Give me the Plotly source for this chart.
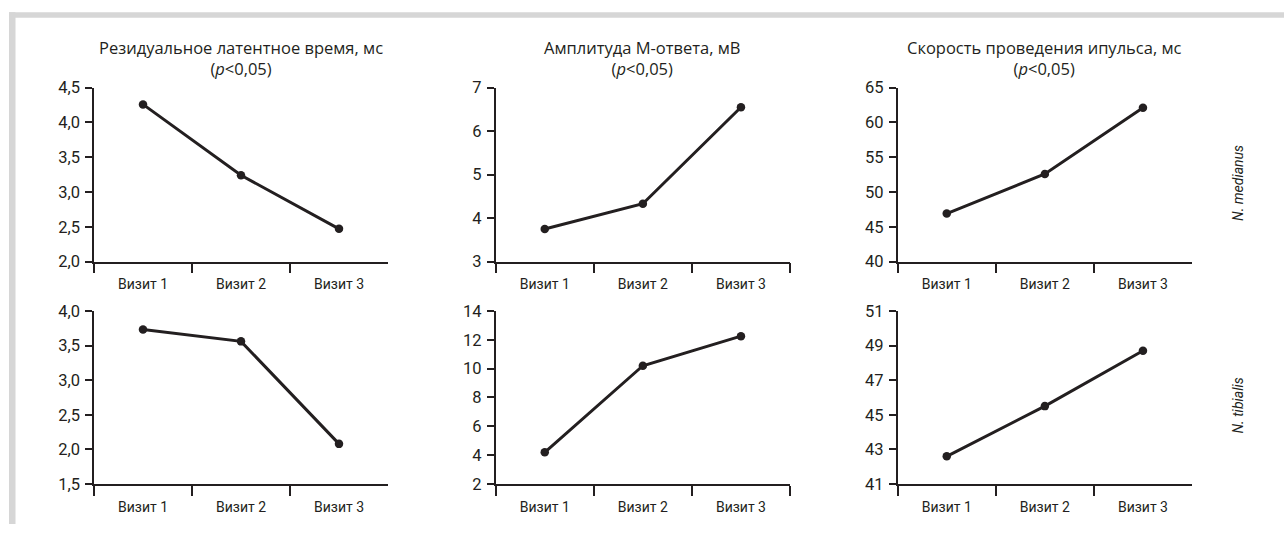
import plotly.graph_objects as go

visits = ["Визит 1", "Визит 2", "Визит 3"]

titles = [
    "Резидуальное латентное время, мс",
    "Амплитуда М-ответа, мВ",
    "Скорость проведения ипульса, мс",
]
subtitle = "(<i>p</i>&lt;0,05)"
row_labels = ["N. medianus", "N. tibialis"]

# row 1: N. medianus
latency_med = [4.26, 3.24, 2.47]
amplitude_med = [3.75, 4.33, 6.55]
speed_med = [46.9, 52.6, 62.1]
# row 2: N. tibialis
latency_tib = [3.73, 3.56, 2.08]
amplitude_tib = [4.2, 10.2, 12.25]
speed_tib = [42.6, 45.5, 48.7]

y_ranges = [[2.0, 4.5], [3, 7], [40, 65], [1.5, 4.0], [2, 14], [41, 51]]
y_dticks = [0.5, 1, 5, 0.5, 2, 2]
y_formats = [".1f", "d", "d", ".1f", "d", "d"]

series = [latency_med, amplitude_med, speed_med, latency_tib, amplitude_tib, speed_tib]

W, H = 1284, 534
SY = 550 / 534   # vertical compensation for how the page is photographed


def px(x):
    return x / W


def py(y):
    return 1 - (y * SY - 8) / H


INK = "#231f20"
YTICKFONT = dict(family="Roboto, sans-serif", size=16.5, color=INK)
XTICKFONT = dict(family="Roboto, sans-serif", size=14, color=INK)
TITLEFONT = dict(family="Open Sans, Noto Sans, sans-serif", size=16.5, color=INK)

x_px = [(94, 388), (495.7, 790), (897.7, 1192)]
y_px = [(87, 262), (311.7, 486)]

fig = go.Figure()
layout = dict(
    width=W, height=H,
    margin=dict(l=0, r=0, t=0, b=0),
    paper_bgcolor="white", plot_bgcolor="white",
    showlegend=False,
    separators=", ",
)

annotations = []
for i, vals in enumerate(series):
    r, c = divmod(i, 3)
    n = i + 1
    xa = "xaxis" if n == 1 else f"xaxis{n}"
    ya = "yaxis" if n == 1 else f"yaxis{n}"
    xr = "x" if n == 1 else f"x{n}"
    yr = "y" if n == 1 else f"y{n}"
    fig.add_trace(go.Scatter(
        x=visits, y=vals, mode="lines+markers",
        line=dict(color=INK, width=3),
        marker=dict(color=INK, size=8.5),
        xaxis=xr, yaxis=yr, hoverinfo="x+y",
    ))
    x0, x1 = x_px[c]
    y0, y1 = y_px[r]
    layout[xa] = dict(
        domain=[px(x0), px(x1)], anchor=yr,
        type="category", range=[-0.5, 2.5], tickson="boundaries",
        showline=True, linecolor=INK, linewidth=1.5,
        ticks="outside", ticklen=10, tickwidth=1.5, tickcolor=INK,
        ticklabelstandoff=9,
        showgrid=False, zeroline=False, tickfont=XTICKFONT,
        fixedrange=True,
    )
    layout[ya] = dict(
        domain=[py(y1), py(y0)], anchor=xr,
        range=y_ranges[i], dtick=y_dticks[i], tick0=y_ranges[i][0],
        tickformat=y_formats[i],
        showline=True, linecolor=INK, linewidth=1.5,
        ticks="outside", ticklen=7, tickwidth=1.5, tickcolor=INK,
        ticklabelstandoff=2,
        showgrid=False, zeroline=False, tickfont=YTICKFONT,
        fixedrange=True,
    )

for c, t in enumerate(titles):
    x0, x1 = x_px[c]
    annotations.append(dict(
        text=t + "<br>" + subtitle, x=px((x0 + x1) / 2), y=py(57),
        xref="paper", yref="paper", align="center",
        xanchor="center", yanchor="middle", showarrow=False, font=TITLEFONT,
    ))

label_y = [183, 407]
for lab, ly in zip(row_labels, label_y):
    annotations.append(dict(
        text=f"<i>{lab}</i>",
        x=px(1238), y=py(ly), xref="paper", yref="paper",
        xanchor="center", yanchor="middle", showarrow=False, textangle=-90,
        font=dict(family="Roboto, sans-serif", size=14, color=INK),
    ))

layout["annotations"] = annotations
layout["shapes"] = [
    dict(type="rect", xref="paper", yref="paper",
         x0=px(9), x1=1, y0=py(16.5), y1=py(11),
         fillcolor="#d6d6d6", line=dict(width=0), layer="below"),
    dict(type="rect", xref="paper", yref="paper",
         x0=px(9), x1=px(15.5), y0=0, y1=py(11),
         fillcolor="#d6d6d6", line=dict(width=0), layer="below"),
]

fig.update_layout(**layout)
fig.write_html(
    "out.html",
    config={"displayModeBar": False},
    post_script="document.body.style.margin='0';",
)
